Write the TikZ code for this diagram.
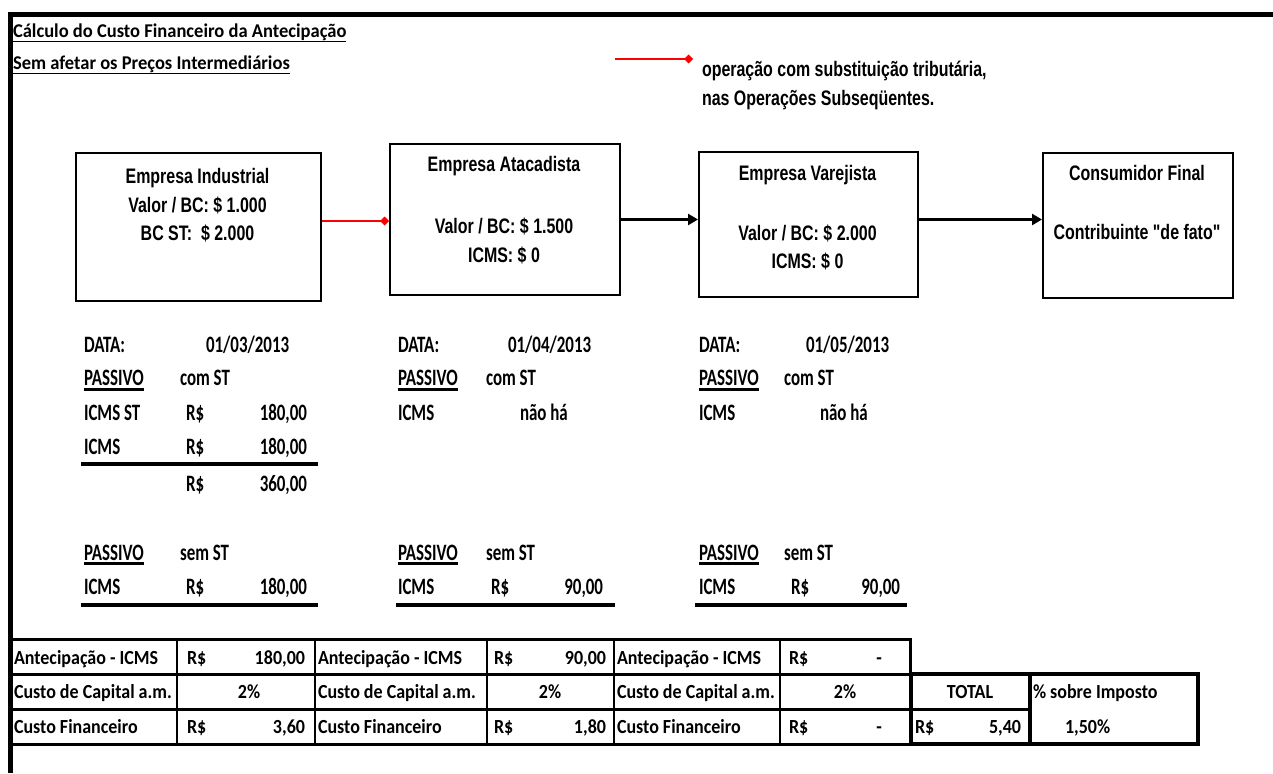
\documentclass[tikz,border=0pt]{standalone}
\usepackage{fontspec}
\usetikzlibrary{arrows.meta}
\newfontfamily\titfont[FakeStretch=0.95]{Carlito}
\newfontfamily\lowfont[FakeStretch=0.72]{Carlito}
\newfontfamily\tabfont[FakeStretch=0.9]{Carlito}
\newfontfamily\boxfont[FakeStretch=0.76]{Liberation Sans}

\begin{document}
\begin{tikzpicture}[x=1pt,y=-1pt,
  txt/.style={inner sep=0pt, outer sep=0pt},
  lw/.style={txt, anchor=base west},
  le/.style={txt, anchor=base east},
  lc/.style={txt, anchor=base},
  firm/.style={draw, line width=1.8pt, inner sep=0pt, anchor=north west},
  boxtxt/.style={txt, anchor=base, font=\boxfont\bfseries\fontsize{21}{25}\selectfont},
  frameline/.style={line width=5pt},
  redlink/.style={draw=red, line width=2.6pt, -{Turned Square[length=9pt,width=9pt]}},
  flow/.style={line width=2.8pt, -{Triangle[length=10pt,width=11pt]}},
  tline/.style={line width=1.6pt},
  uline/.style={line width=2.8pt},
  sumrule/.style={line width=4pt},
  hgrid/.style={line width=3pt},
  vgrid/.style={line width=1.5pt},
  totgrid/.style={line width=4pt},
]
\useasboundingbox (0,0) rectangle (1273,773);
\fill[white] (0,0) rectangle (1273,773);

% sheet frame
\draw[frameline] (8,14.2) -- (1273,14.2);
\draw[frameline] (10.8,12) -- (10.8,773);

% heading
\begin{scope}[font=\titfont\bfseries\fontsize{19.5}{23}\selectfont]
\node[lw] (h1) at (13,38) {Cálculo do Custo Financeiro da Antecipação};
\node[lw] (h2) at (13,70) {Sem afetar os Preços Intermediários};
\end{scope}
\draw[tline] ([yshift=-3.4pt]h1.base west) -- ([yshift=-3.4pt]h1.base east);
\draw[tline] ([yshift=-3.4pt]h2.base west) -- ([yshift=-3.4pt]h2.base east);

% legend
\coordinate (lg0) at (615,59);
\coordinate (lg1) at (693,59);
\draw[redlink] (lg0) -- (lg1);
\node[boxtxt, anchor=base west] (lgt1) at (702,76.5) {operação com substituição tributária,};
\node[boxtxt, anchor=base west] (lgt2) at (702,106) {nas Operações Subseqüentes.};

% chain of companies
\node[firm, minimum width=245pt, minimum height=148pt] (ind) at (75,152) {};
\node[firm, minimum width=230pt, minimum height=151pt] (ata) at (389,143) {};
\node[firm, minimum width=219pt, minimum height=145pt] (var) at (698,151) {};
\node[firm, minimum width=190pt, minimum height=145pt] (con) at (1042,152) {};

\node[boxtxt] (ind1) at (197.5,183) {Empresa Industrial};
\node[boxtxt] (ind2) at (197.5,212) {Valor / BC: \$ 1.000};
\node[boxtxt] (ind3) at (197.5,240) {BC ST:\ \ \$ 2.000};

\node[boxtxt] (ata1) at (504,171) {Empresa Atacadista};
\node[boxtxt] (ata2) at (504,233) {Valor / BC: \$ 1.500};
\node[boxtxt] (ata3) at (504,262) {ICMS: \$ 0};

\node[boxtxt] (var1) at (807.5,180) {Empresa Varejista};
\node[boxtxt] (var2) at (807.5,240) {Valor / BC: \$ 2.000};
\node[boxtxt] (var3) at (807.5,268) {ICMS: \$ 0};

\node[boxtxt] (con1) at (1137,180) {Consumidor Final};
\node[boxtxt] (con2) at (1137,239) {Contribuinte "de fato"};

\coordinate (ry) at (0,221);
\coordinate (by) at (0,219.5);
\draw[redlink] (ind.east |- ry) -- (ata.west |- ry);
\draw[flow] (ata.east |- by) -- (var.west |- by);
\draw[flow] (var.east |- by) -- (con.west |- by);

% liabilities per stage
\begin{scope}[font=\lowfont\bfseries\fontsize{23.5}{27}\selectfont]
% stage 1
\node[lw] (d1) at (84,352) {DATA:};
\node[lw] (d1v) at (206,352) {01/03/2013};
\node[lw] (p1) at (84,385.5) {PASSIVO};
\node[lw] (p1s) at (180,385.5) {com ST};
\node[lw] (a1) at (84,420.5) {ICMS ST};
\node[lw] (a1r) at (186,420.5) {R\$};
\node[le] (a1v) at (307,420.5) {180,00};
\node[lw] (b1) at (84,454) {ICMS};
\node[lw] (b1r) at (186,454) {R\$};
\node[le] (b1v) at (307,454) {180,00};
\node[lw] (c1r) at (186,491) {R\$};
\node[le] (c1v) at (307,491) {360,00};
\node[lw] (q1) at (84,560) {PASSIVO};
\node[lw] (q1s) at (180,560) {sem ST};
\node[lw] (e1) at (84,594) {ICMS};
\node[lw] (e1r) at (186,594) {R\$};
\node[le] (e1v) at (307,594) {180,00};
% stage 2
\node[lw] (d2) at (398,352) {DATA:};
\node[lw] (d2v) at (508,352) {01/04/2013};
\node[lw] (p2) at (398,385.5) {PASSIVO};
\node[lw] (p2s) at (486,385.5) {com ST};
\node[lw] (a2) at (398,420.5) {ICMS};
\node[lw] (a2v) at (520,420.5) {não há};
\node[lw] (q2) at (398,560) {PASSIVO};
\node[lw] (q2s) at (486,560) {sem ST};
\node[lw] (e2) at (398,594) {ICMS};
\node[lw] (e2r) at (491,594) {R\$};
\node[le] (e2v) at (603,594) {90,00};
% stage 3
\node[lw] (d3) at (699,352) {DATA:};
\node[lw] (d3v) at (806,352) {01/05/2013};
\node[lw] (p3) at (699,385.5) {PASSIVO};
\node[lw] (p3s) at (784,385.5) {com ST};
\node[lw] (a3) at (699,420.5) {ICMS};
\node[lw] (a3v) at (820,420.5) {não há};
\node[lw] (q3) at (699,560) {PASSIVO};
\node[lw] (q3s) at (784,560) {sem ST};
\node[lw] (e3) at (699,594) {ICMS};
\node[lw] (e3r) at (791,594) {R\$};
\node[le] (e3v) at (900,594) {90,00};
\end{scope}

\foreach \n in {p1,q1,p2,q2,p3,q3}
  \draw[uline] ([yshift=-3.6pt]\n.base west) -- ([yshift=-3.6pt]\n.base east);

\draw[sumrule] (81,464) -- (318,464);
\draw[sumrule] (81,605) -- (318,605);
\draw[sumrule] (396,605) -- (615,605);
\draw[sumrule] (695,605) -- (907,605);

% summary table grid
\foreach \yy in {639.5,674,709,744}
  \draw[hgrid] (10.8,\yy) -- (910,\yy);
\foreach \xx in {177,315,487,614,780}
  \draw[vgrid] (\xx,639.5) -- (\xx,744);
\draw[hgrid] (910,638) -- (910,745.5);
\draw[totgrid] (911,674) rectangle (1198,744);
\draw[totgrid] (1030,674) -- (1030,744);
\draw[hgrid] (911,709) -- (1030,709);

\begin{scope}[font=\tabfont\bfseries\fontsize{20}{24}\selectfont]
% row 1
\node[lw] (r1a) at (14,664) {Antecipação - ICMS};
\node[lw] (r1b) at (187,664) {R\$};
\node[le] (r1c) at (305,664) {180,00};
\node[lw] (r1d) at (318,664) {Antecipação - ICMS};
\node[lw] (r1e) at (494,664) {R\$};
\node[le] (r1f) at (606,664) {90,00};
\node[lw] (r1g) at (617,664) {Antecipação - ICMS};
\node[lw] (r1h) at (789,664) {R\$};
\node[lc] (r1i) at (879,664) {-};
% row 2
\node[lw] (r2a) at (14,698.5) {Custo de Capital a.m.};
\node[lc] (r2b) at (249,698.5) {2\%};
\node[lw] (r2d) at (318,698.5) {Custo de Capital a.m.};
\node[lc] (r2e) at (550,698.5) {2\%};
\node[lw] (r2g) at (617,698.5) {Custo de Capital a.m.};
\node[lc] (r2h) at (845,698.5) {2\%};
\node[lc] (r2t) at (970,698.5) {TOTAL};
\node[lw] (r2p) at (1033,698.5) {\% sobre Imposto};
% row 3
\node[lw] (r3a) at (14,733) {Custo Financeiro};
\node[lw] (r3b) at (187,733) {R\$};
\node[le] (r3c) at (305,733) {3,60};
\node[lw] (r3d) at (318,733) {Custo Financeiro};
\node[lw] (r3e) at (494,733) {R\$};
\node[le] (r3f) at (606,733) {1,80};
\node[lw] (r3g) at (617,733) {Custo Financeiro};
\node[lw] (r3h) at (789,733) {R\$};
\node[lc] (r3i) at (879,733) {-};
\node[lw] (r3t) at (915,733) {R\$};
\node[le] (r3u) at (1021,733) {5,40};
\node[lw] (r3p) at (1065,733) {1,50\%};
\end{scope}
\end{tikzpicture}
\end{document}
